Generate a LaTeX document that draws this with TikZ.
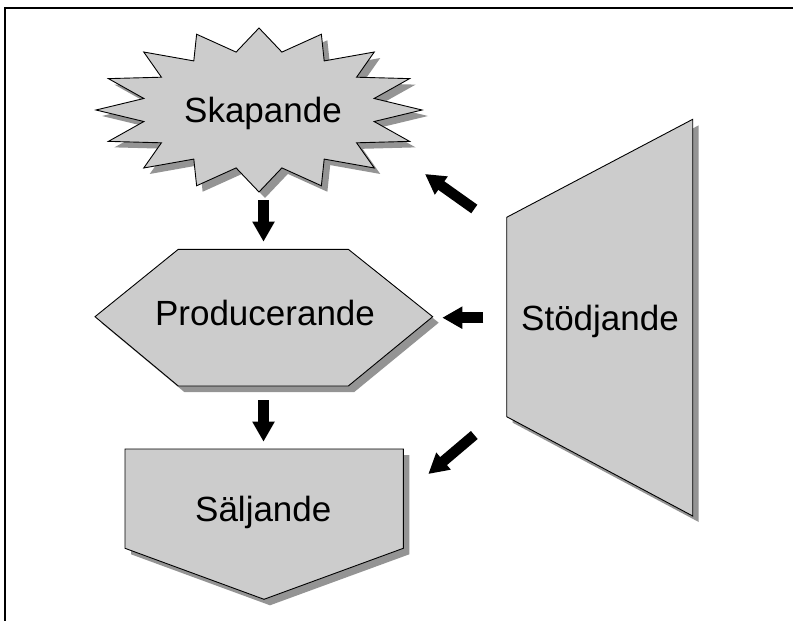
\documentclass[tikz,border=0pt]{standalone}
\usepackage{fontspec}
\setmainfont{Liberation Sans}
\usetikzlibrary{arrows.meta}
\tikzset{
  shapefill/.style={fill=black!20, draw=black, line width=0.9pt, line join=miter},
  shapeshadow/.style={fill=black!42, shift={(6,6)}},
  lbl/.style={font=\fontsize{35}{40}\selectfont, anchor=base, inner sep=0pt},
  blockarrow/.style={line width=10.5pt, -{Triangle[length=20pt,width=21pt]}},
}
\begin{document}
\begin{tikzpicture}[x=1pt,y=-1pt]
\useasboundingbox (0,0) rectangle (793,621);
% frame
\draw[line width=1.3pt] (5,630) -- (5,8) -- (800,8);

% Skapande star
\def\starpath{plot[samples=33, domain=0:32, variable=\t]
  ({259+163*(1-0.28*mod(round(\t),2))*cos(90+11.25*\t)},
   {110-82*(1-0.28*mod(round(\t),2))*sin(90+11.25*\t)}) -- cycle}
\fill[shapeshadow] \starpath;
\draw[shapefill] \starpath;
\node[lbl] (sk) at (263,122.7) {Skapande};

% Producerande hexagon
\fill[shapeshadow] (95,316.7) -- (178.3,249.3) -- (348.3,249.3) -- (432.7,316.7) -- (348.3,386) -- (178.3,386) -- cycle;
\draw[shapefill] (95,316.7) -- (178.3,249.3) -- (348.3,249.3) -- (432.7,316.7) -- (348.3,386) -- (178.3,386) -- cycle;
\node[lbl] (pr) at (265,325) {Producerande};

% Säljande pentagon
\fill[shapeshadow] (125,449) -- (403.3,449) -- (403.3,548.3) -- (264,599.3) -- (125,548.3) -- cycle;
\draw[shapefill] (125,449) -- (403.3,449) -- (403.3,548.3) -- (264,599.3) -- (125,548.3) -- cycle;
\node[lbl] (sa) at (263.3,521.7) {Säljande};

% Stödjande trapezoid
\fill[shapeshadow] (506.7,217.3) -- (692.7,119.3) -- (692.7,516) -- (506.7,416.7) -- cycle;
\draw[shapefill] (506.7,217.3) -- (692.7,119.3) -- (692.7,516) -- (506.7,416.7) -- cycle;
\node[lbl] (st) at (600,330.7) {Stödjande};

% arrow end points
\coordinate (a1s) at (263.5,200);
\coordinate (a1e) at (263.5,241.7);
\coordinate (a2s) at (263.5,400);
\coordinate (a2e) at (263.5,441.7);
\coordinate (a3s) at (483.3,317.7);
\coordinate (a3e) at (442.3,317.7);
\coordinate (a4s) at (474.3,209);
\coordinate (a4e) at (425,174);
\coordinate (a5s) at (474.3,435);
\coordinate (a5e) at (428.3,474);

\draw[blockarrow] (a1s) -- (a1e);
\draw[blockarrow] (a2s) -- (a2e);
\draw[blockarrow] (a3s) -- (a3e);
\draw[blockarrow] (a4s) -- (a4e);
\draw[blockarrow] (a5s) -- (a5e);
\end{tikzpicture}
\end{document}
